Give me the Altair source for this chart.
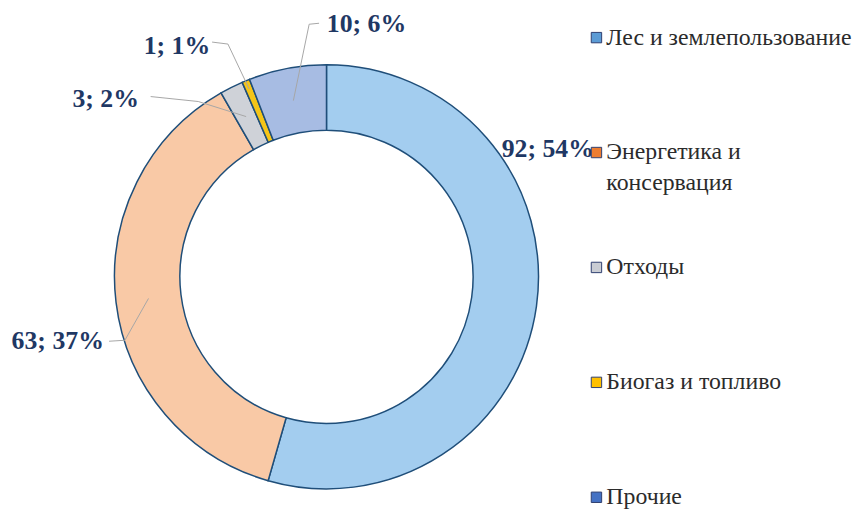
import altair as alt
import numpy as np
import pandas as pd

# ---------------- data ----------------
categories = ["Лес и землепользование", "Энергетика и консервация", "Отходы",
              "Биогаз и топливо", "Прочие"]
values = [92, 63, 3, 1, 10]
percents = [54, 37, 2, 1, 6]
legend_lines = [["Лес и землепользование"], ["Энергетика и", "консервация"],
                ["Отходы"], ["Биогаз и топливо"], ["Прочие"]]

# ---------------- styles / layout ----------------
slice_colors = ["#A3CDEF", "#F9C9A6", "#CFD2D8", "#F5C518", "#A7BCE3"]
legend_colors = ["#5B9BD5", "#ED7D31", "#C9CCD3", "#FFC000", "#4472C4"]
FONT = "'Liberation Serif', 'Times New Roman', serif"
W, H = 857, 507
CX, CY = 321.5, 269          # donut centre inside the plot area
R_OUT, R_IN = 214, 148
label_angle = [60.0, 256.5, 308.8, 327.1, 9.0]     # degrees, clockwise from top
label_radius = [258, 279, 286, 278, 258]
leader_anchor_r = [None, 181, 181, 205, 181]
leader_start = [None, (-219.5, -65), (-177.5, 182), (-115.5, 237), (-7.5, 256)]
leader_elbow = [None, (-203.5, -64), (-129.5, 177), (-99.5, 235), (-17.5, 255)]
LEG_X, LEG_TX = 272.5, 282.5
LEG_Y0, LEG_STEP, LEG_LINE = 241.5, 116, 31

total = sum(values)
cum = np.cumsum(values)
mid_deg = [(c - v / 2) / total * 360 for c, v in zip(cum, values)]

slices = pd.DataFrame({
    "category": categories, "value": values, "idx": list(range(len(values))),
    "fill": slice_colors,
})

labels = pd.DataFrame({
    "text": [f"{v}; {p}%" for v, p in zip(values, percents)],
    "x": [r * np.sin(np.radians(a)) for r, a in zip(label_radius, label_angle)],
    "y": [r * np.cos(np.radians(a)) for r, a in zip(label_radius, label_angle)],
})

rows = []
for i, cat in enumerate(categories):
    if leader_anchor_r[i] is None:
        continue
    a = np.radians(mid_deg[i])
    ax, ay = leader_anchor_r[i] * np.sin(a), leader_anchor_r[i] * np.cos(a)
    for k, (px, py) in enumerate([leader_start[i], leader_elbow[i], (ax, ay)]):
        rows.append({"cat": cat, "pt": k, "x": px, "y": py})
leaders = pd.DataFrame(rows)

leg_sq = pd.DataFrame({
    "x": [LEG_X] * len(categories),
    "y": [LEG_Y0 - i * LEG_STEP for i in range(len(categories))],
    "fill": legend_colors,
})
leg_rows = []
for i, lines in enumerate(legend_lines):
    for j, t in enumerate(lines):
        leg_rows.append({"text": t, "x": LEG_TX, "y": LEG_Y0 - i * LEG_STEP - j * LEG_LINE})
leg_txt = pd.DataFrame(leg_rows)

xs = alt.Scale(domain=[-CX, W - CX], nice=False, zero=False)
ys = alt.Scale(domain=[-(H - CY), CY], nice=False, zero=False)
X = alt.X("x:Q", scale=xs, axis=None)
Y = alt.Y("y:Q", scale=ys, axis=None)

donut = alt.Chart(slices).mark_arc(
    outerRadius=R_OUT, innerRadius=R_IN, stroke="#1F4E79", strokeWidth=1.5
).encode(
    theta=alt.Theta("value:Q", stack=True),
    order=alt.Order("idx:Q"),
    fill=alt.Fill("fill:N", scale=None),
    x=alt.value(CX), y=alt.value(CY),
)

leader = alt.Chart(leaders).mark_line(color="#A6A6A6", strokeWidth=1).encode(
    x=X, y=Y, detail="cat:N", order="pt:Q"
)

label = alt.Chart(labels).mark_text(
    font=FONT, fontSize=26, fontWeight="bold", color="#1F3864",
    align="center", baseline="middle"
).encode(x=X, y=Y, text="text:N")

sq = alt.Chart(leg_sq).mark_square(size=110, stroke="#2F3F6F", strokeWidth=1, opacity=1).encode(
    x=X, y=Y, fill=alt.Fill("fill:N", scale=None)
)

lt = alt.Chart(leg_txt).mark_text(
    font=FONT, fontSize=24, color="#2B2B2B", align="left", baseline="middle"
).encode(x=X, y=Y, text="text:N")

chart = alt.layer(donut, leader, label, sq, lt).properties(
    width=W, height=H, autosize=alt.AutoSizeParams(type="none"), padding=0
).configure_view(stroke=None)

chart.save("out.html", embed_options={"renderer": "svg", "actions": False})
